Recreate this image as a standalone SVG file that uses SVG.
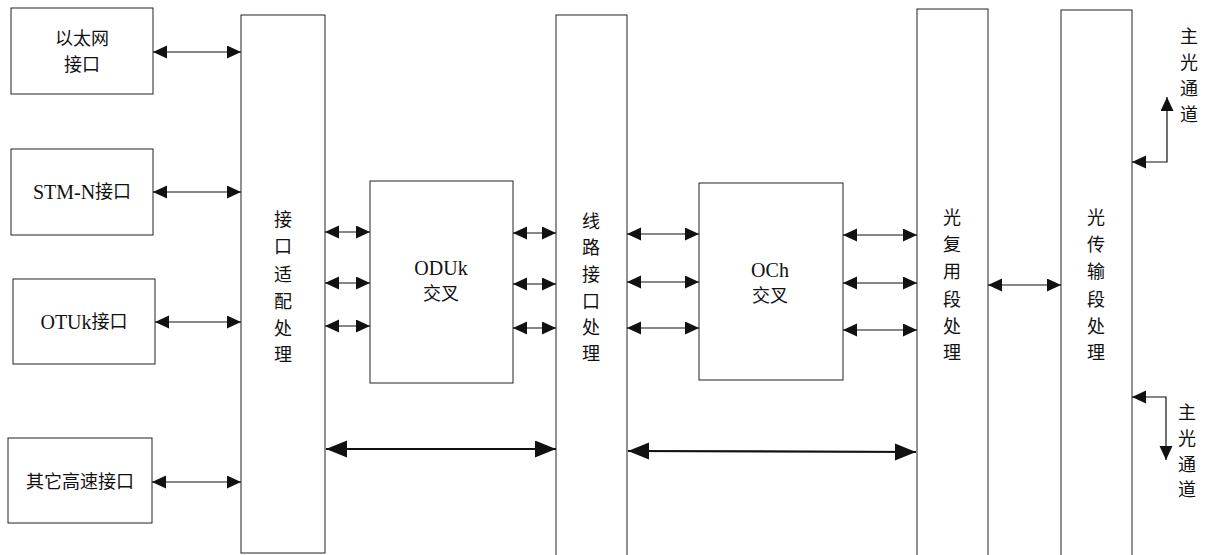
<svg xmlns="http://www.w3.org/2000/svg" width="1207" height="555" viewBox="0 0 1207 555">
<style>
.box{fill:#fff;stroke:#222;stroke-width:1}
.t{font-family:"Liberation Serif","Noto Sans CJK SC",serif;font-size:18px;fill:#111;text-anchor:middle;dominant-baseline:central}
.l{font-size:20px}
.c{stroke:#111;stroke-width:1.2;fill:none}
.sa{marker-start:url(#a);marker-end:url(#a)}
.big{stroke:#111;stroke-width:2.2;fill:none;marker-start:url(#b);marker-end:url(#b)}
</style>
<defs>
<marker id="a" markerUnits="userSpaceOnUse" markerWidth="15" markerHeight="14" refX="14" refY="6.5" orient="auto-start-reverse"><path d="M0,0 L14,6.5 L0,13 z" fill="#111"/></marker>
<marker id="b" markerUnits="userSpaceOnUse" markerWidth="22" markerHeight="18" refX="21" refY="8.5" orient="auto-start-reverse"><path d="M0,0 L21,8.5 L0,17 z" fill="#111"/></marker>
</defs>
<rect width="1207" height="555" fill="#fff"/>
<g id="eth"><rect class="box" x="11" y="8" width="142" height="86"/><text class="t" x="82" y="39">以太网</text><text class="t" x="82" y="65">接口</text></g>
<g id="stm"><rect class="box" x="11" y="149" width="142" height="86"/><text class="t" x="82" y="192"><tspan class="l">STM-N</tspan>接口</text></g>
<g id="otuk"><rect class="box" x="13" y="279" width="142" height="85"/><text class="t" x="84" y="322"><tspan class="l">OTUk</tspan>接口</text></g>
<g id="other"><rect class="box" x="8" y="438" width="144" height="85"/><text class="t" x="80" y="482">其它高速接口</text></g>
<g id="adapt"><rect class="box" x="241" y="15" width="84" height="538"/><text class="t" x="283" y="220">接</text><text class="t" x="283" y="247">口</text><text class="t" x="283" y="275">适</text><text class="t" x="283" y="302">配</text><text class="t" x="283" y="329">处</text><text class="t" x="283" y="355">理</text></g>
<g id="oduk"><rect class="box" x="370" y="181" width="143" height="202"/><text class="t l" x="441" y="268">ODUk</text><text class="t" x="441" y="294">交叉</text></g>
<g id="line"><rect class="box" x="556" y="15" width="71" height="545"/><text class="t" x="591" y="222">线</text><text class="t" x="591" y="248">路</text><text class="t" x="591" y="275">接</text><text class="t" x="591" y="302">口</text><text class="t" x="591" y="328">处</text><text class="t" x="591" y="354">理</text></g>
<g id="och"><rect class="box" x="699" y="183" width="144" height="197"/><text class="t l" x="770" y="270">OCh</text><text class="t" x="770" y="296">交叉</text></g>
<g id="oms"><rect class="box" x="917" y="9" width="71" height="551"/><text class="t" x="952" y="218">光</text><text class="t" x="952" y="245">复</text><text class="t" x="952" y="272">用</text><text class="t" x="952" y="300">段</text><text class="t" x="952" y="327">处</text><text class="t" x="952" y="353">理</text></g>
<g id="ots"><rect class="box" x="1061" y="10" width="71" height="550"/><text class="t" x="1096" y="218">光</text><text class="t" x="1096" y="245">传</text><text class="t" x="1096" y="272">输</text><text class="t" x="1096" y="300">段</text><text class="t" x="1096" y="327">处</text><text class="t" x="1096" y="353">理</text></g>
<g id="lbl-top"><text class="t" x="1189" y="37">主</text><text class="t" x="1189" y="63">光</text><text class="t" x="1189" y="89">通</text><text class="t" x="1189" y="115">道</text></g>
<g id="lbl-bot"><text class="t" x="1187" y="413">主</text><text class="t" x="1187" y="439">光</text><text class="t" x="1187" y="465">通</text><text class="t" x="1187" y="490">道</text></g>
<g id="connectors">
<line class="c sa" x1="153" y1="52" x2="241" y2="52"/>
<line class="c sa" x1="153" y1="192" x2="241" y2="192"/>
<line class="c sa" x1="155" y1="322" x2="241" y2="322"/>
<line class="c sa" x1="152" y1="482" x2="241" y2="482"/>
<line class="c sa" x1="325" y1="232" x2="370" y2="232"/>
<line class="c sa" x1="325" y1="283" x2="370" y2="283"/>
<line class="c sa" x1="325" y1="326" x2="370" y2="326"/>
<line class="c sa" x1="513" y1="233" x2="556" y2="233"/>
<line class="c sa" x1="513" y1="284" x2="556" y2="284"/>
<line class="c sa" x1="513" y1="328" x2="556" y2="328"/>
<line class="c sa" x1="627" y1="234" x2="699" y2="234"/>
<line class="c sa" x1="627" y1="282" x2="699" y2="282"/>
<line class="c sa" x1="627" y1="328" x2="699" y2="328"/>
<line class="c sa" x1="843" y1="235" x2="917" y2="235"/>
<line class="c sa" x1="843" y1="283" x2="917" y2="283"/>
<line class="c sa" x1="843" y1="330" x2="917" y2="330"/>
<line class="c sa" x1="988" y1="285" x2="1061" y2="285"/>
<line class="big" x1="326" y1="449" x2="556" y2="449"/>
<line class="big" x1="628" y1="451" x2="916" y2="452"/>
<polyline class="c sa" points="1132,162 1167,162 1167,97"/>
<polyline class="c sa" points="1132,397 1166,397 1166,460"/>
</g>
</svg>
